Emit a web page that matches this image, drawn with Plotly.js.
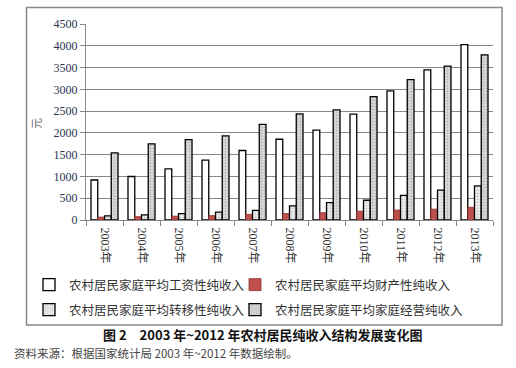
<!DOCTYPE html>
<html>
<head>
<meta charset="utf-8">
<script src="https://cdn.plot.ly/plotly-3.0.1.min.js"></script>
<style>
html,body{margin:0;padding:0;background:#fff;}
#chart{width:516px;height:368px;}
</style>
</head>
<body>
<div id="chart"></div>
<script>
var years = ['2003年','2004年','2005年','2006年','2007年','2008年','2009年','2010年','2011年','2012年','2013年'];
var wageIncome = [918.4, 998.5, 1174.5, 1374.8, 1596.2, 1853.7, 2061.3, 2431.1, 2963.4, 3447.5, 4025.4];
var propertyIncome = [65.8, 76.6, 88.5, 100.5, 128.2, 148.1, 167.2, 202.2, 228.6, 249.1, 293.0];
var transferIncome = [96.8, 115.5, 147.4, 180.8, 222.3, 323.2, 398.0, 452.9, 563.3, 686.7, 784.3];
var householdIncome = [1541.3, 1745.8, 1844.5, 1931.0, 2193.7, 2435.6, 2526.8, 2832.8, 3222.0, 3533.4, 3793.2];
var seriesNames = ['农村居民家庭平均工资性纯收入','农村居民家庭平均财产性纯收入','农村居民家庭平均转移性纯收入','农村居民家庭平均家庭经营纯收入'];
var yTicks = [0,500,1000,1500,2000,2500,3000,3500,4000,4500];

var W = 516, H = 368;
var L = 86, R = 493, T = 24, B = 220;
function px(x){ return (x - L) / (R - L); }
function py(y){ return (B - y) / (B - T); }

var cjk = '"Noto Sans CJK SC", sans-serif';
var serif = '"Liberation Serif", "Noto Sans CJK SC", serif';

var traces = [
  {type:'bar', name:seriesNames[0], x:years, y:wageIncome, legend:'legend',
   marker:{color:'#ffffff', line:{color:'#000000', width:1.3}}},
  {type:'bar', name:seriesNames[1], x:years, y:propertyIncome, legend:'legend2',
   marker:{color:'#c0504d', line:{color:'#8a3230', width:0.8}}},
  {type:'bar', name:seriesNames[2], x:years, y:transferIncome, legend:'legend3',
   marker:{color:'#eeeeee', line:{color:'#000000', width:1.3},
     pattern:{shape:'.', bgcolor:'#f0f0f0', fgcolor:'#c4c4c4', size:3, solidity:0.3}}},
  {type:'bar', name:seriesNames[3], x:years, y:householdIncome, legend:'legend4',
   marker:{color:'#d9d9d9', line:{color:'#000000', width:1.3},
     pattern:{shape:'.', bgcolor:'#dddddd', fgcolor:'#b4b4b4', size:3, solidity:0.35}}}
];

function leg(textX, rowY){
  return {
    orientation:'h', xanchor:'left', yanchor:'middle',
    x:px(textX - 41), y:py(rowY),
    font:{family:cjk, size:12.5, color:'#333333'},
    bgcolor:'rgba(0,0,0,0)', borderwidth:0
  };
}

var layout = {
  width:W, height:H,
  margin:{l:L, r:W-R, t:T, b:H-B, pad:0},
  paper_bgcolor:'#ffffff', plot_bgcolor:'#ffffff',
  barmode:'group', bargap:0.27, bargroupgap:0,
  showlegend:true,
  legend: leg(70, 285),
  legend2: leg(276, 285),
  legend3: leg(70, 310),
  legend4: leg(276, 310),
  xaxis:{
    type:'category', tickangle:90, tickson:'boundaries',
    ticks:'outside', ticklen:5, tickcolor:'#888888', tickwidth:1,
    ticklabelstandoff:4,
    showline:true, linecolor:'#888888', linewidth:1,
    showgrid:false, zeroline:false,
    tickfont:{family:serif, size:12, color:'#333333'}
  },
  yaxis:{
    range:[0,4500], tickvals:yTicks, ticktext:yTicks.map(String),
    ticks:'outside', ticklen:5, tickcolor:'#888888',
    showline:true, linecolor:'#888888', linewidth:1,
    showgrid:true, gridcolor:'#888888', gridwidth:1,
    zeroline:false,
    tickfont:{family:serif, size:12, color:'#2a3550'}
  },
  shapes:[
    {type:'rect', xref:'paper', yref:'paper', x0:px(26.5), x1:px(502), y0:py(325), y1:py(7.5),
     line:{color:'#888888', width:1.5}, fillcolor:'rgba(0,0,0,0)', layer:'below'}
  ],
  annotations:[
    {xref:'paper', yref:'paper', x:px(36), y:py(124), xanchor:'center', yanchor:'middle',
     text:'元', textangle:-90, showarrow:false,
     font:{family:cjk, size:11, color:'#666666'}},
    {xref:'paper', yref:'paper', x:px(263), y:py(334), xanchor:'center', yanchor:'middle',
     text:'<b>图 2　2003 年~2012 年农村居民纯收入结构发展变化图</b>', showarrow:false,
     font:{family:'"Noto Sans CJK SC", serif', size:13, color:'#111111'}},
    {xref:'paper', yref:'paper', x:px(12), y:py(353), xanchor:'left', yanchor:'middle',
     text:'资料来源：根据国家统计局 2003 年~2012 年数据绘制。', showarrow:false,
     font:{family:cjk, size:11.5, color:'#444444'}}
  ]
};

Plotly.newPlot('chart', traces, layout, {staticPlot:true, displayModeBar:false});
</script>
</body>
</html>
